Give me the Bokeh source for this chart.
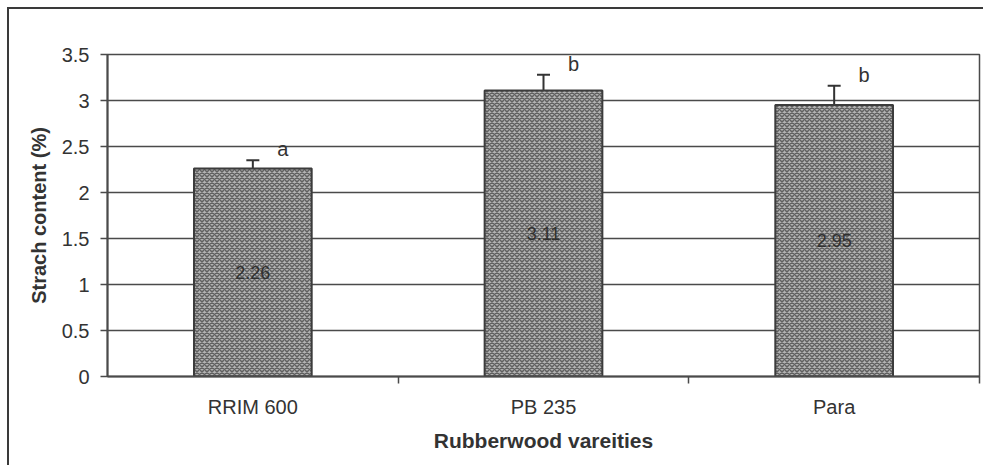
from bokeh.plotting import figure
from bokeh.models import Range1d, FixedTicker, ColumnDataSource, Whisker, TeeHead, LabelSet
from bokeh.core.properties import value
from bokeh.embed import file_html
from bokeh.resources import INLINE

varieties = ["RRIM 600", "PB 235", "Para"]
starch = [2.26, 3.11, 2.95]
errors = [0.09, 0.17, 0.21]
letters = ["a", "b", "b"]
y_ticks = [0, 0.5, 1, 1.5, 2, 2.5, 3, 3.5]
y_tick_labels = ["0", "0.5", "1", "1.5", "2", "2.5", "3", "3.5"]

xs = [i + 0.5 for i in range(len(varieties))]
boundaries = [i + 1 for i in range(len(varieties))]
src = ColumnDataSource(dict(
    x=xs,
    top=starch,
    lower=[s - e for s, e in zip(starch, errors)],
    upper=[s + e for s, e in zip(starch, errors)],
    letter=letters,
    value_text=[f"{s:.2f}" for s in starch],
    mid=[s / 2 for s in starch],
))

FONT = "Liberation Sans"
INK = "#333333"
LINE = "#4a4a4a"

p = figure(width=976, height=458, x_range=Range1d(0, len(varieties)), y_range=Range1d(0, 3.5),
           output_backend="svg", toolbar_location=None,
           min_border_left=98, min_border_right=6, min_border_top=45, min_border_bottom=91)
p.styles = {"border-left": "2px solid #3a3a3a", "border-top": "2px solid #3a3a3a",
            "margin-left": "7px", "margin-top": "7px"}
p.background_fill_color = "white"
p.border_fill_color = "white"
p.outline_line_color = LINE
p.outline_line_width = 1.5

p.vbar(x="x", top="top", bottom=0, width=0.405, source=src,
       fill_color="#b2b2b2", line_color="#3c3c3c", line_width=2,
       hatch_pattern="diagonal_cross", hatch_color="#606060", hatch_scale=5, hatch_weight=1.5)

p.add_layout(Whisker(base="x", upper="upper", lower="lower", source=src,
                     line_color=INK, line_width=2,
                     upper_head=TeeHead(size=13, line_color=INK, line_width=2),
                     lower_head=TeeHead(size=13, line_color=INK, line_width=2)))

p.add_layout(LabelSet(x="x", y="upper", text="letter", source=src, x_offset=30, y_offset=4,
                      text_align="center", text_baseline="alphabetic",
                      text_font=value(FONT), text_font_size=value("20px"), text_color=INK))
p.add_layout(LabelSet(x="x", y="mid", text="value_text", source=src,
                      text_align="center", text_baseline="middle",
                      text_font=value(FONT), text_font_size=value("18px"), text_color="#303030"))

p.xgrid.visible = False
p.ygrid.ticker = FixedTicker(ticks=y_ticks)
p.ygrid.grid_line_color = LINE
p.ygrid.grid_line_width = 1.5

ya = p.yaxis[0]
ya.ticker = FixedTicker(ticks=y_ticks)
ya.major_label_overrides = dict(zip(y_ticks, y_tick_labels))
ya.axis_line_color = LINE
ya.axis_line_width = 2
ya.major_tick_line_color = LINE
ya.major_tick_line_width = 1.5
ya.major_tick_out = 7
ya.major_tick_in = 0
ya.minor_tick_line_color = None
ya.major_label_text_font = FONT
ya.major_label_text_font_size = "20px"
ya.major_label_text_color = INK
ya.major_label_standoff = 11
ya.axis_label = "Strach content (%)"
ya.axis_label_text_font = FONT
ya.axis_label_text_font_style = "bold"
ya.axis_label_text_font_size = "20px"
ya.axis_label_text_color = INK
ya.axis_label_standoff = 9

xa = p.xaxis[0]
xa.ticker = FixedTicker(ticks=xs, minor_ticks=boundaries)
xa.major_label_overrides = dict(zip(xs, varieties))
xa.axis_line_color = LINE
xa.axis_line_width = 2
xa.major_tick_line_color = None
xa.major_tick_out = 0
xa.major_tick_in = 0
xa.minor_tick_line_color = LINE
xa.minor_tick_line_width = 1.5
xa.minor_tick_out = 7
xa.minor_tick_in = 0
xa.major_label_text_font = FONT
xa.major_label_text_font_size = "20px"
xa.major_label_text_color = INK
xa.major_label_standoff = 12
xa.axis_label = "Rubberwood vareities"
xa.axis_label_text_font = FONT
xa.axis_label_text_font_style = "bold"
xa.axis_label_text_font_size = "21px"
xa.axis_label_text_color = INK
xa.axis_label_standoff = 8

open("out.html", "w").write(file_html(p, INLINE))
